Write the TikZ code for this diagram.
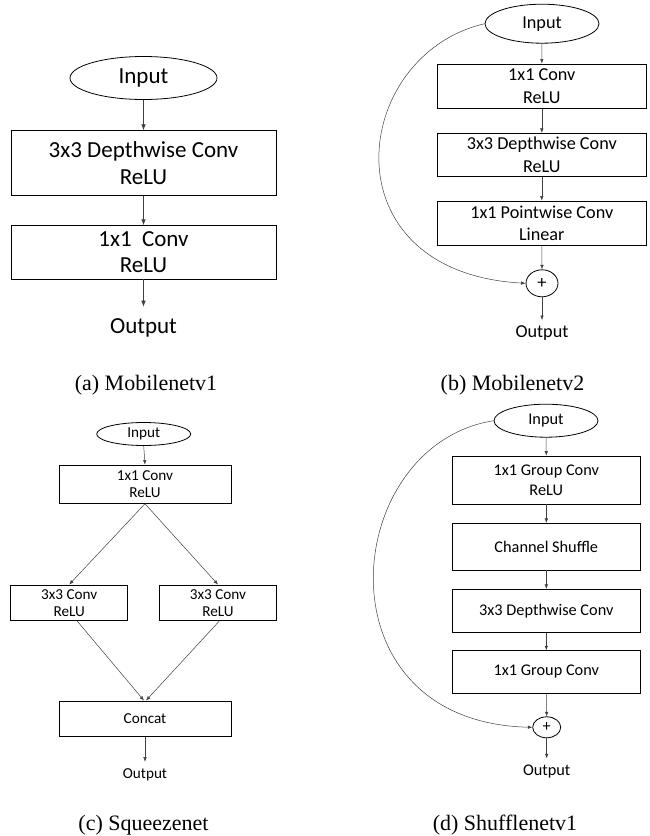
\documentclass[tikz,border=0pt]{standalone}
\usepackage{fontspec}
\setmainfont{Liberation Serif}
\newfontfamily\calfont{Carlito}
\usetikzlibrary{shapes.geometric,arrows.meta}
\begin{document}
\begin{tikzpicture}[x=1pt,y=-1pt,
  box/.style={draw=black, line width=0.8pt, inner sep=0pt, align=center},
  oval/.style={ellipse, draw=black, line width=0.8pt, inner sep=0pt},
  conn/.style={draw=black!75, line width=0.55pt, -{Latex[length=6pt,width=4.5pt]}},
  connsm/.style={draw=black!75, line width=0.5pt, -{Latex[length=4.5pt,width=3.5pt]}},
  fa/.style={font=\calfont\fontsize{23}{26.5}\selectfont},
  fb/.style={font=\calfont\fontsize{18.2}{22.6}\selectfont},
  fc/.style={font=\calfont\fontsize{15.2}{16.8}\selectfont},
  fd/.style={font=\calfont\fontsize{16.3}{20}\selectfont},
  captext/.style={font=\fontsize{22}{24}\selectfont, anchor=base, inner sep=0pt}]
\useasboundingbox (0,0) rectangle (649,836);

% ---------- (a) Mobilenetv1
\node[oval, fa, minimum width=147, minimum height=43] (ina) at (143.5,78) {Input};
\node[box, fa, minimum width=265, minimum height=64.6] (a1) at (143.5,163) {3x3 Depthwise Conv\\ReLU};
\node[box, fa, minimum width=265, minimum height=53.3] (a2) at (143.5,252.3) {1x1\ \ Conv\\ReLU};
\coordinate (oa) at (143.5,306.7);
\node[fa] (outa) at (143.5,328) {Output};
\draw[conn] (ina.south) -- (a1.north);
\draw[conn] (a1.south) -- (a2.north);
\draw[conn] (a2.south) -- (oa);
\node[captext] (capa) at (146,390) {(a) Mobilenetv1};

% ---------- (b) Mobilenetv2
\node[oval, fb, minimum width=114, minimum height=39] (inb) at (542,23.7) {Input};
\node[box, fb, minimum width=208.3, minimum height=44.7] (b1) at (541.8,86.3) {1x1 Conv\\ReLU};
\node[box, fb, minimum width=208.3, minimum height=43.4] (b2) at (541.8,155) {3x3 Depthwise Conv\\ReLU};
\node[box, fb, minimum width=208.3, minimum height=44.3] (b3) at (541.8,223.2) {1x1 Pointwise Conv\\Linear};
\node[ellipse, draw=black, line width=0.8pt, inner sep=0pt, fb, minimum width=32, minimum height=27] (pb) at (542,283.3) {+};
\coordinate (ob) at (542,320);
\node[fb] (outb) at (542,333) {Output};
\draw[connsm] (inb.south) -- (b1.north);
\draw[connsm] (b1.south) -- (b2.north);
\draw[connsm] (b2.south) -- (b3.north);
\draw[connsm] (b3.south) -- (pb.north);
\draw[connsm] (pb.south) -- (ob);
\draw[connsm] (inb.west) .. controls (350,55) and (325,272) .. (pb.west);
\node[captext] (capb) at (512.5,390) {(b) Mobilenetv2};

% ---------- (c) Squeezenet
\node[oval, fc, minimum width=94, minimum height=23] (inc) at (143.7,434) {Input};
\node[box, fc, minimum width=172, minimum height=38.3] (c1) at (145,484.2) {1x1 Conv\\ReLU};
\node[box, fc, minimum width=117, minimum height=35.7] (cl) at (69.2,602.8) {3x3 Conv\\ReLU};
\node[box, fc, minimum width=117.4, minimum height=35.7] (cr) at (218,602.8) {3x3 Conv\\ReLU};
\node[box, fc, minimum width=172, minimum height=35.7] (cc) at (145,718.8) {Concat};
\coordinate (oc) at (145,761.7);
\node[fc] (outc) at (145,775) {Output};
\draw[connsm] (inc.south) -- (c1.north);
\draw[connsm] (c1.south) -- (cl.north);
\draw[connsm] (c1.south) -- (cr.north);
\draw[connsm] ([xshift=8pt]cl.south) -- ([xshift=-1pt]cc.north);
\draw[connsm] ([xshift=1.3pt]cr.south) -- ([xshift=1pt]cc.north);
\draw[connsm] (cc.south) -- (oc);
\node[captext] (capc) at (143.5,830) {(c) Squeezenet};

% ---------- (d) Shufflenetv1
\node[oval, fd, minimum width=104, minimum height=33] (ind) at (546,420.7) {Input};
\node[box, fd, minimum width=187.3, minimum height=48] (d1) at (546.3,480) {1x1 Group Conv\\ReLU};
\node[box, fd, minimum width=187.3, minimum height=46.7] (d2) at (546.3,546.7) {Channel Shuffle};
\node[box, fd, minimum width=187.3, minimum height=43] (d3) at (546.3,610.8) {3x3 Depthwise Conv};
\node[box, fd, minimum width=187.3, minimum height=42.6] (d4) at (546.3,672) {1x1 Group Conv};
\node[ellipse, draw=black, line width=0.8pt, inner sep=0pt, fd, minimum width=28, minimum height=21] (pd) at (546.7,727.3) {+};
\coordinate (od) at (546.7,758.3);
\node[fd] (outd) at (546.7,772) {Output};
\draw[connsm] (ind.south) -- (d1.north);
\draw[connsm] (d1.south) -- (d2.north);
\draw[connsm] (d2.south) -- (d3.north);
\draw[connsm] (d3.south) -- (d4.north);
\draw[connsm] (d4.south) -- (pd.north);
\draw[connsm] (pd.south) -- (od);
\draw[connsm] (ind.west) .. controls (340,445) and (315,722) .. (pd.west);
\node[captext] (capd) at (505,830) {(d) Shufflenetv1};
\end{tikzpicture}
\end{document}
